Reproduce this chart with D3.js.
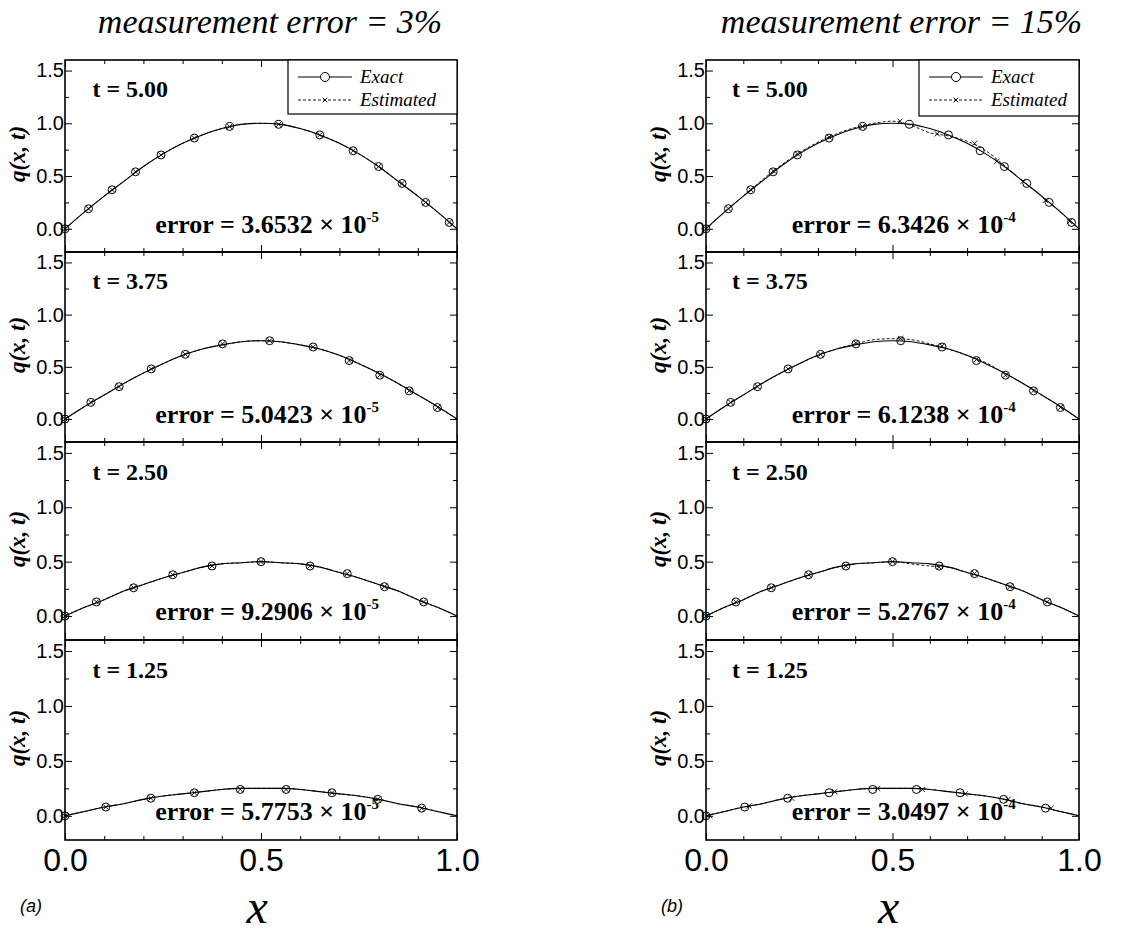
<!DOCTYPE html>
<html>
<head>
<meta charset="utf-8">
<script src="https://cdn.jsdelivr.net/npm/d3@7"></script>
<style>
  body { margin: 0; background: #fff; }
</style>
</head>
<body>
<svg id="chart" width="1128" height="934"></svg>
<script>
// x positions of the sampled curves
const gridX = [0, 0.05, 0.1, 0.15, 0.2, 0.25, 0.3, 0.35, 0.4, 0.45, 0.5, 0.55, 0.6, 0.65, 0.7, 0.75, 0.8, 0.85, 0.9, 0.95, 1.0];

// exact curves, one per time level
const exact500 = [0, 0.16, 0.31, 0.45, 0.59, 0.71, 0.81, 0.89, 0.95, 0.99, 1.00, 0.99, 0.95, 0.89, 0.81, 0.71, 0.59, 0.45, 0.31, 0.16, 0];
const exact375 = [0, 0.12, 0.23, 0.34, 0.44, 0.53, 0.61, 0.67, 0.71, 0.74, 0.75, 0.74, 0.71, 0.67, 0.61, 0.53, 0.44, 0.34, 0.23, 0.12, 0];
const exact250 = [0, 0.08, 0.15, 0.23, 0.29, 0.35, 0.40, 0.45, 0.48, 0.49, 0.50, 0.49, 0.48, 0.45, 0.40, 0.35, 0.29, 0.23, 0.15, 0.08, 0];
const exact125 = [0, 0.04, 0.08, 0.11, 0.15, 0.18, 0.20, 0.22, 0.24, 0.25, 0.25, 0.25, 0.24, 0.22, 0.20, 0.18, 0.15, 0.11, 0.08, 0.04, 0];

// estimated curves with 15% measurement error
const est15_500 = [0, 0.16, 0.31, 0.46, 0.60, 0.72, 0.82, 0.90, 0.96, 1.00, 1.02, 0.98, 0.91, 0.88, 0.83, 0.74, 0.60, 0.45, 0.31, 0.16, 0];
const est15_375 = [0, 0.12, 0.23, 0.34, 0.44, 0.53, 0.61, 0.67, 0.72, 0.76, 0.77, 0.76, 0.72, 0.67, 0.61, 0.54, 0.44, 0.34, 0.23, 0.12, 0];
const est15_250 = [0, 0.08, 0.15, 0.23, 0.29, 0.35, 0.40, 0.45, 0.48, 0.49, 0.50, 0.48, 0.46, 0.45, 0.40, 0.35, 0.29, 0.23, 0.15, 0.08, 0];
const est15_125 = [0, 0.04, 0.08, 0.11, 0.15, 0.18, 0.20, 0.22, 0.24, 0.25, 0.25, 0.25, 0.24, 0.22, 0.20, 0.18, 0.15, 0.11, 0.08, 0.04, 0];

// circle symbols on the exact curves
const circX500 = [0, 0.06, 0.12, 0.18, 0.245, 0.33, 0.42, 0.545, 0.65, 0.735, 0.80, 0.86, 0.92, 0.98];
const circY500 = [0, 0.19, 0.37, 0.54, 0.70, 0.86, 0.97, 0.99, 0.89, 0.74, 0.59, 0.43, 0.25, 0.06];
const circX375 = [0, 0.066, 0.138, 0.22, 0.307, 0.402, 0.522, 0.633, 0.725, 0.803, 0.878, 0.95];
const circY375 = [0, 0.16, 0.31, 0.48, 0.62, 0.72, 0.75, 0.69, 0.56, 0.42, 0.27, 0.11];
const circX250 = [0, 0.08, 0.175, 0.275, 0.375, 0.5, 0.625, 0.72, 0.815, 0.915];
const circY250 = [0, 0.13, 0.26, 0.38, 0.46, 0.50, 0.46, 0.39, 0.27, 0.13];
const circX125 = [0, 0.104, 0.219, 0.33, 0.447, 0.564, 0.681, 0.798, 0.91];
const circY125 = [0, 0.08, 0.16, 0.21, 0.24, 0.24, 0.21, 0.15, 0.07];

// cross symbols on the 15% estimated curves
const crossX500 = [0, 0.06, 0.12, 0.18, 0.245, 0.33, 0.42, 0.52, 0.62, 0.72, 0.78, 0.85, 0.91, 0.975];
const crossY500 = [0, 0.19, 0.37, 0.55, 0.71, 0.87, 0.97, 1.02, 0.90, 0.81, 0.64, 0.45, 0.27, 0.07];
const crossX375 = [0, 0.066, 0.138, 0.22, 0.307, 0.402, 0.522, 0.633, 0.725, 0.803, 0.878, 0.95];
const crossY375 = [0, 0.16, 0.31, 0.48, 0.62, 0.73, 0.77, 0.70, 0.57, 0.42, 0.27, 0.11];
const crossX250 = [0, 0.08, 0.175, 0.275, 0.375, 0.5, 0.625, 0.72, 0.815, 0.915];
const crossY250 = [0, 0.13, 0.26, 0.38, 0.46, 0.50, 0.45, 0.39, 0.27, 0.13];
const crossX125 = [0.01, 0.115, 0.23, 0.345, 0.46, 0.58, 0.695, 0.81, 0.925];
const crossY125 = [0, 0.09, 0.16, 0.22, 0.25, 0.24, 0.20, 0.15, 0.07];

const timeLabels = ["5.00", "3.75", "2.50", "1.25"];
const errors3 = ["3.6532", "5.0423", "9.2906", "5.7753"];
const errors15 = ["6.3426", "6.1238", "5.2767", "3.0497"];
const yTickLabels = ["0.0", "0.5", "1.0", "1.5"];
const xTickLabels = ["0.0", "0.5", "1.0"];

const exactCurves = [exact500, exact375, exact250, exact125];
const est15Curves = [est15_500, est15_375, est15_250, est15_125];
const circX = [circX500, circX375, circX250, circX125];
const circY = [circY500, circY375, circY250, circY125];
const crossX = [crossX500, crossX375, crossX250, crossX125];
const crossY = [crossY500, crossY375, crossY250, crossY125];

// layout
const rowEdges = [60, 252, 442, 640, 840];
const sans = "'Liberation Sans', Arial, sans-serif";
const serif = "'Liberation Serif', 'Times New Roman', serif";

const columns = [
  { left: 65, right: 457, title: "measurement error = 3%", tag: "(a)", errors: errors3, exp: "-5",
    est: exactCurves, crossX: circX, crossY: circY, legendLeft: 288, legendBottom: 114 },
  { left: 706, right: 1079, title: "measurement error = 15%", tag: "(b)", errors: errors15, exp: "-4",
    est: est15Curves, crossX: crossX, crossY: crossY, legendLeft: 919, legendBottom: 116 }
];

const svg = d3.select("#chart");

const crossPath = (cx, cy, s) =>
  `M${cx - s},${cy - s}L${cx + s},${cy + s}M${cx - s},${cy + s}L${cx + s},${cy - s}`;

columns.forEach(col => {
  const x = d3.scaleLinear().domain([0, 1]).range([col.left, col.right]);

  svg.append("text")
    .attr("x", (col.left + col.right) / 2 + 9)
    .attr("y", 33)
    .attr("text-anchor", "middle")
    .style("font-family", serif)
    .style("font-style", "italic")
    .style("font-size", "34px")
    .text(col.title);

  timeLabels.forEach((tl, i) => {
    const top = rowEdges[i], bottom = rowEdges[i + 1];
    const y = d3.scaleLinear().domain([-0.22, 1.6]).range([bottom, top]);
    const g = svg.append("g");

    // tick marks pointing inward on all four sides
    const addAxis = (axis, tx, ty) => {
      const a = g.append("g").attr("transform", `translate(${tx},${ty})`).call(axis);
      a.select(".domain").remove();
      a.selectAll("line").attr("stroke", "#000").attr("stroke-width", 1);
      return a;
    };
    const yMajor = [0, 0.5, 1, 1.5], yMinor = [0.25, 0.75, 1.25];
    const xMajor = [0, 0.5, 1], xMinor = [0.1, 0.2, 0.3, 0.4, 0.6, 0.7, 0.8, 0.9];

    const yl = addAxis(d3.axisLeft(y).tickValues(yMajor).tickFormat((d, k) => yTickLabels[k])
      .tickSizeInner(-7).tickSizeOuter(0).tickPadding(1), col.left, 0);
    yl.selectAll("text").style("font-family", sans).style("font-size", "20px").attr("fill", "#000");
    addAxis(d3.axisLeft(y).tickValues(yMinor).tickFormat("").tickSize(-4), col.left, 0);
    addAxis(d3.axisRight(y).tickValues(yMajor).tickFormat("").tickSize(-7), col.right, 0);
    addAxis(d3.axisRight(y).tickValues(yMinor).tickFormat("").tickSize(-4), col.right, 0);
    addAxis(d3.axisTop(x).tickValues(xMajor).tickFormat("").tickSize(-7), 0, top);
    addAxis(d3.axisTop(x).tickValues(xMinor).tickFormat("").tickSize(-4), 0, top);
    const xb = addAxis(d3.axisBottom(x).tickValues(xMajor)
      .tickFormat((d, k) => i === 3 ? xTickLabels[k] : "")
      .tickSizeInner(-7).tickSizeOuter(0).tickPadding(8), 0, bottom);
    xb.selectAll("text").style("font-family", sans).style("font-size", "32px").attr("fill", "#000");
    addAxis(d3.axisBottom(x).tickValues(xMinor).tickFormat("").tickSize(-4), 0, bottom);

    // exact (solid) and estimated (dashed) curves
    const line = d3.line().x((d, k) => x(gridX[k])).y(d => y(d)).curve(d3.curveMonotoneX);
    g.append("path").datum(exactCurves[i]).attr("d", line)
      .attr("fill", "none").attr("stroke", "#000").attr("stroke-width", 1.1);
    g.append("path").datum(col.est[i]).attr("d", line)
      .attr("fill", "none").attr("stroke", "#000").attr("stroke-width", 0.9)
      .attr("stroke-dasharray", "3,2");

    g.selectAll(".circ").data(circX[i]).join("circle")
      .attr("cx", d => x(d)).attr("cy", (d, k) => y(circY[i][k])).attr("r", 4)
      .attr("fill", "none").attr("stroke", "#000").attr("stroke-width", 1);
    g.selectAll(".cross").data(col.crossX[i]).join("path")
      .attr("d", (d, k) => crossPath(x(d), y(col.crossY[i][k]), 2.6))
      .attr("stroke", "#000").attr("stroke-width", 0.9).attr("fill", "none");

    // frame
    g.append("rect")
      .attr("x", col.left).attr("y", top)
      .attr("width", col.right - col.left).attr("height", bottom - top)
      .attr("fill", "none").attr("stroke", "#000").attr("stroke-width", 1.6);

    // panel texts
    g.append("text")
      .attr("x", x(0.07)).attr("y", y(1.25))
      .style("font-family", serif).style("font-weight", "bold").style("font-size", "24px")
      .text(`t = ${tl}`);
    const et = g.append("text")
      .attr("x", x(0.23)).attr("y", y(-0.04))
      .style("font-family", serif).style("font-weight", "bold").style("font-size", "26px")
      .text(`error = ${col.errors[i]} \u00d7 10`);
    et.append("tspan").attr("dy", -11).style("font-size", "15px").text(col.exp);

    g.append("text")
      .attr("transform", `translate(${col.left - 40},${(top + bottom) / 2 - 2}) rotate(-90)`)
      .attr("text-anchor", "middle")
      .style("font-family", serif).style("font-style", "italic")
      .style("font-weight", "bold").style("font-size", "23px")
      .text("q(x, t)");
  });

  // legend box
  const lg = svg.append("g");
  const lx = col.legendLeft, ly = rowEdges[0];
  lg.append("rect").attr("x", lx).attr("y", ly)
    .attr("width", col.right - lx).attr("height", col.legendBottom - ly)
    .attr("fill", "#fff").attr("stroke", "#000").attr("stroke-width", 1.2);
  const ey = ly + 17, sy = ly + 40;
  lg.append("line").attr("x1", lx + 10).attr("x2", lx + 64).attr("y1", ey).attr("y2", ey)
    .attr("stroke", "#000").attr("stroke-width", 1.1);
  lg.append("circle").attr("cx", lx + 37).attr("cy", ey).attr("r", 4.5)
    .attr("fill", "#fff").attr("stroke", "#000");
  lg.append("line").attr("x1", lx + 10).attr("x2", lx + 64).attr("y1", sy).attr("y2", sy)
    .attr("stroke", "#000").attr("stroke-width", 0.9).attr("stroke-dasharray", "3,2");
  lg.append("path").attr("d", crossPath(lx + 37, sy, 2.3)).attr("stroke", "#000");
  lg.append("text").attr("x", lx + 72).attr("y", ey + 6)
    .style("font-family", serif).style("font-style", "italic").style("font-size", "19px").text("Exact");
  lg.append("text").attr("x", lx + 72).attr("y", sy + 6)
    .style("font-family", serif).style("font-style", "italic").style("font-size", "19px").text("Estimated");

  // panel tag and x axis title
  svg.append("text").attr("x", col.left - 45).attr("y", 912)
    .style("font-family", sans).style("font-style", "italic").style("font-size", "18px")
    .text(col.tag);
  svg.append("text").attr("x", x(0.49)).attr("y", 923)
    .attr("text-anchor", "middle")
    .style("font-family", serif).style("font-style", "italic").style("font-size", "48px")
    .text("x");
});
</script>
</body>
</html>
